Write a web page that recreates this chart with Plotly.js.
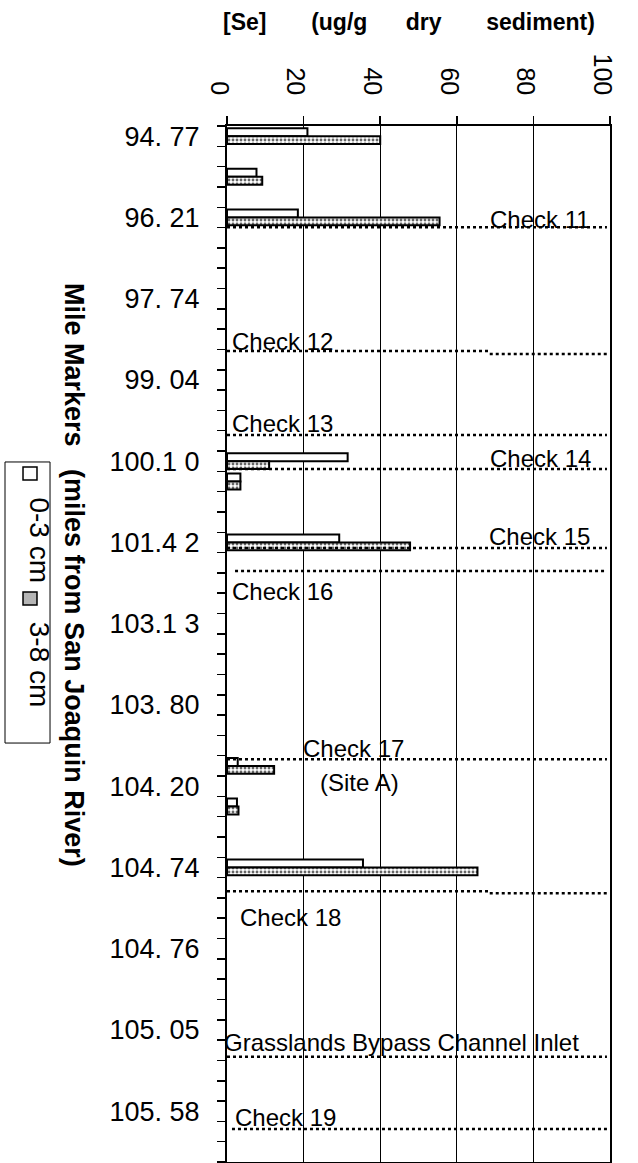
<!DOCTYPE html>
<html><head><meta charset="utf-8">
<script src="https://cdn.plot.ly/plotly-3.0.1.min.js"></script>
<style>html,body{margin:0;padding:0;background:#fff}#chart{width:638px;height:1163px}</style>
</head><body><div id="chart"></div>
<script>
// ---- data ----
const mileMarkers = ["94.77","96.21","97.74","99.04","100.10","101.42","103.13","103.80","104.20","104.74","104.76","105.05","105.58"];
const tickLabels  = ["94. 77","96. 21","97. 74","99. 04","100.1 0","101.4 2","103.1 3","103. 80","104. 20","104. 74","104. 76","105. 05","105. 58"];
const slotsPerMarker = 4;
const totalSlots = 51;
const sampleSlots = [0, 2, 4, 16, 17, 20, 31, 33, 36];
const se0to3 = [21, 7.7, 18.5, 31.5, 3.5, 29.3, 2.8, 2.6, 35.5];
const se3to8 = [40, 9.2, 55.5, 11, 3.5, 47.8, 12.3, 3, 65.4];
const seriesNames = ["0-3 cm", "3-8 cm"];
const xTicks = [0, 20, 40, 60, 80, 100];

// categories (labelled mile markers every 4th slot)
const categories = [];
const catText = [];
for (let i = 0; i < totalSlots; i++) {
  const m = Math.floor(i / slotsPerMarker), r = i % slotsPerMarker;
  if (r === 0 && m < mileMarkers.length) { categories.push(mileMarkers[m]); catText.push(tickLabels[m]); }
  else { categories.push(mileMarkers[Math.min(m, mileMarkers.length-1)] + "-" + (r || slotsPerMarker)); catText.push(""); }
}
const sampleCats = sampleSlots.map(s => categories[s]);

const FONT = "Liberation Sans, Arial, Helvetica, sans-serif";
const NB = n => "\u00a0".repeat(n);

const traces = [
  { type: "bar", orientation: "h", name: seriesNames[0], x: se0to3, y: sampleCats,
    marker: { color: "white", line: { color: "black", width: 2 } } },
  { type: "bar", orientation: "h", name: seriesNames[1], x: se3to8, y: sampleCats,
    marker: { color: "white", line: { color: "black", width: 2 },
      pattern: { shape: ".", fgcolor: "#666", bgcolor: "white", size: 4, solidity: 0.4 } } }
];

// reference (check) lines, in value / slot units
const refLines = [
  { y: 4.49, x0: 0, x1: 99.2 },
  { y: 10.58, x0: 0, x1: 68.2 }, { y: 10.73, x0: 68.6, x1: 99.2 },
  { y: 14.71, x0: 0, x1: 99.2 },
  { y: 16.39, x0: 0, x1: 99.2 },
  { y: 20.28, x0: 0, x1: 99.2 },
  { y: 21.41, x0: 2.1, x1: 99.2 },
  { y: 30.67, x0: 0, x1: 99.2 },
  { y: 37.17, x0: 0, x1: 68.2 }, { y: 37.27, x0: 68.6, x1: 99.2 },
  { y: 45.32, x0: 0, x1: 99.2 },
  { y: 48.88, x0: 1.3, x1: 99.2 }
];
const refLabels = [
  { text: "Check 11", x: 95.3, y: 4.08, xanchor: "right" },
  { text: "Check 12", x: 0.8, y: 10.13, xanchor: "left" },
  { text: "Check 13", x: 0.8, y: 14.15, xanchor: "left" },
  { text: "Check 14", x: 95.6, y: 15.87, xanchor: "right" },
  { text: "Check 15", x: 95.3, y: 19.69, xanchor: "right" },
  { text: "Check 16", x: 0.8, y: 22.4, xanchor: "left" },
  { text: "Check 17", x: 33.0, y: 30.15, xanchor: "center" },
  { text: "(Site A)", x: 34.5, y: 31.8, xanchor: "center" },
  { text: "Check 18", x: 2.9, y: 38.47, xanchor: "left" },
  { text: "Grasslands Bypass Channel Inlet", x: 0, xshift: -5, y: 44.63, xanchor: "left" },
  { text: "Check 19", x: 1.6, y: 48.3, xanchor: "left" }
];

const shapes = refLines.map(l => ({ type: "line", xref: "x", yref: "y", x0: l.x0, x1: l.x1, y0: l.y, y1: l.y,
  line: { color: "black", width: 2.5, dash: "dot" }, layer: "above" }));
// custom rotated legend
shapes.push({ type: "rect", xref: "paper", yref: "paper", x0: -0.5796, x1: -0.4621, y0: 0.4044, y1: 0.6757,
  line: { color: "black", width: 1 }, fillcolor: "white" });
shapes.push({ type: "rect", xref: "paper", yref: "paper", x0: -0.5326, x1: -0.4961, y0: 0.6583, y1: 0.6708,
  line: { color: "black", width: 1.5 }, fillcolor: "white" });
shapes.push({ type: "rect", xref: "paper", yref: "paper", x0: -0.5326, x1: -0.4961, y0: 0.5376, y1: 0.5502,
  line: { color: "black", width: 1.5 }, fillcolor: "#b5b5b5" });

const annotations = refLabels.map(a => ({ text: a.text, x: a.x, y: a.y, xref: "x", yref: "y",
  xshift: a.xshift || 0,
  xanchor: a.xanchor, yanchor: "middle", showarrow: false, font: { size: 24, color: "black" } }));
annotations.push({ text: "<b>Mile Markers" + NB(3) + "(miles from San Joaquin River)</b>", textangle: 90,
  xref: "paper", yref: "paper", x: -0.4073, xshift: -14, y: 0.5666, showarrow: false,
  font: { size: 27, color: "black" } });
annotations.push({ text: seriesNames[0], textangle: 90, xref: "paper", yref: "paper", x: -0.5144, xshift: -8, y: 0.5995,
  showarrow: false, font: { size: 28, color: "black" } });
annotations.push({ text: seriesNames[1], textangle: 90, xref: "paper", yref: "paper", x: -0.5144, xshift: -8, y: 0.4795,
  showarrow: false, font: { size: 28, color: "black" } });

const layout = {
  width: 638, height: 1163,
  margin: { l: 227, r: 28, t: 126, b: 1 },
  paper_bgcolor: "white", plot_bgcolor: "white",
  font: { family: FONT, color: "black" },
  showlegend: false,
  barmode: "group", bargap: 0.22, bargroupgap: 0,
  title: { text: "<b>[Se]" + NB(7) + "(ug/g" + NB(6) + "dry" + NB(7) + "sediment)</b>",
    font: { size: 23, color: "black" }, xref: "paper", x: 0.475, xanchor: "center",
    yref: "container", y: 0.981, yanchor: "middle" },
  xaxis: { side: "top", range: [0, 100], tickmode: "array", tickvals: xTicks, tickangle: 90,
    ticks: "outside", ticklen: 8, tickwidth: 1.5, tickcolor: "black",
    showgrid: true, gridcolor: "black", gridwidth: 1,
    showline: true, linecolor: "black", linewidth: 2, mirror: true, zeroline: false,
    tickfont: { size: 25 }, ticklabelstandoff: 12, ticklabelshift: -8 },
  yaxis: { type: "category", categoryorder: "array", categoryarray: categories,
    range: [totalSlots - 0.5, -0.5], tickmode: "array", tickvals: categories, ticktext: catText,
    tickson: "boundaries", ticks: "outside", ticklen: 8, tickwidth: 1.5, tickcolor: "black",
    showline: true, linecolor: "black", linewidth: 2, mirror: true, showgrid: false, zeroline: false,
    tickfont: { size: 27 }, ticklabelstandoff: 20 },
  shapes: shapes,
  annotations: annotations
};

Plotly.newPlot("chart", traces, layout, { staticPlot: true, displayModeBar: false });
</script>
</body></html>
